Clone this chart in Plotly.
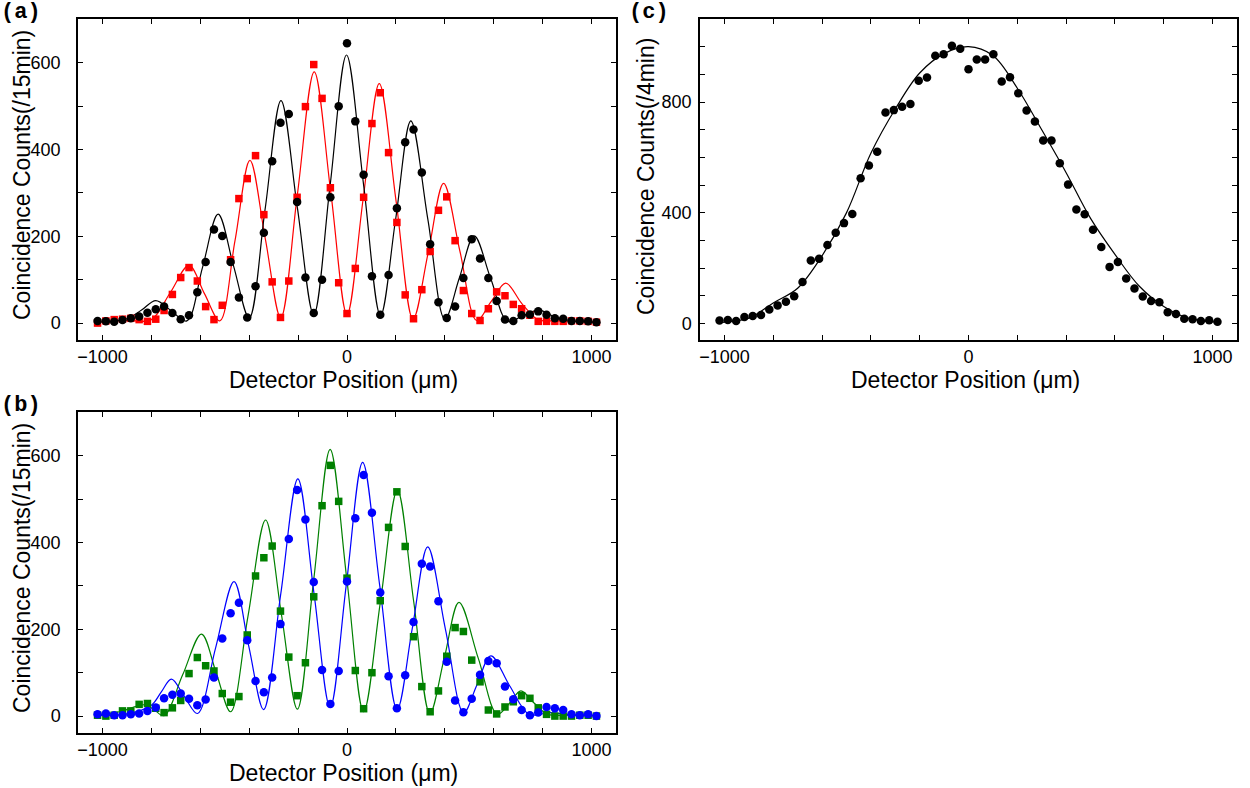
import plotly.graph_objects as go

# Detector scan positions (micrometres), shared by every data series
POS = [-1020, -986, -952, -918, -884, -850, -816, -782, -748, -714, -680, -646, -612, -578,
       -544, -510, -476, -442, -408, -374, -340, -306, -272, -238, -204, -170, -136, -102,
       -68, -34, 0, 34, 68, 102, 136, 170, 204, 238, 272, 306, 340, 374, 408, 442, 476, 510,
       544, 578, 612, 646, 680, 714, 748, 782, 816, 850, 884, 918, 952, 986, 1020]

# (a) coincidence counts per 15 min
A_BLACK = [5, 4, 3, 7, 11, 15, 24, 32, 38, 23, 9, 18, 71, 141, 216, 201, 141, 59, 13, 85,
           208, 373, 462, 482, 279, 105, 23, 100, 290, 500, 645, 465, 342, 108, 19, 111, 265,
           417, 446, 347, 182, 48, 12, 38, 104, 193, 149, 104, 51, 8, 5, 18, 20, 27, 19, 11,
           10, 5, 5, 4, 2]
A_RED = [0, 5, 8, 9, 11, 8, 4, 9, 29, 66, 105, 128, 97, 38, 8, 41, 146, 287, 333, 386,
         250, 95, 13, 97, 290, 499, 596, 518, 312, 93, 22, 126, 290, 460, 531, 393, 232, 65,
         10, 77, 165, 260, 291, 190, 75, 22, 6, 33, 72, 63, 43, 33, 18, 4, 4, 4, 4, 5, 5, 4, 2]

# (a) fitted curves: knots at peaks, valleys and half-heights
A_BLACK_FIT_X = [-1030, -900, -840, -782, -718, -655, -591, -527, -464, -400, -335, -270,
                 -203, -136, -69, -2, 68, 137, 199, 261, 331, 400, 460, 520, 588, 657, 722,
                 786, 850, 920, 1025]
A_BLACK_FIT_Y = [2, 10, 30, 52, 28, 5, 128, 251, 132, 12, 262, 513, 266, 19, 318, 618, 318,
                 17, 240, 466, 238, 9, 105, 201, 102, 4, 18, 30, 14, 5, 2]
A_RED_FIT_X = [-1030, -900, -800, -723, -646, -583, -520, -458, -397, -334, -271, -203,
               -134, -66, 0, 66, 132, 201, 270, 333, 395, 462, 530, 590, 649, 715, 780, 850,
               950, 1025]
A_RED_FIT_Y = [2, 6, 8, 70, 133, 68, 5, 190, 375, 194, 12, 296, 579, 300, 20, 286, 552,
               280, 9, 165, 322, 165, 6, 50, 92, 45, 8, 5, 4, 2]

# (b) coincidence counts per 15 min
B_BLUE = [4, 6, 2, 2, 4, 6, 12, 20, 41, 49, 52, 40, 25, 38, 89, 179, 237, 261, 175, 81,
          55, 89, 212, 408, 521, 453, 309, 106, 28, 104, 310, 456, 556, 469, 285, 92, 18, 94,
          217, 351, 345, 265, 125, 36, 9, 40, 95, 127, 122, 68, 39, 14, 2, 8, 21, 18, 14, 4,
          2, 4, 0]
B_GREEN = [2, 0, 2, 12, 12, 27, 29, 18, 8, 19, 36, 98, 135, 116, 104, 52, 32, 45, 187, 323,
           365, 392, 242, 136, 47, 123, 275, 485, 578, 495, 318, 105, 17, 100, 266, 435, 517,
           391, 183, 68, 10, 58, 138, 204, 195, 129, 79, 14, 5, 21, 33, 47, 41, 19, 4, 0, 0,
           0, 2, 2, 0]

B_BLUE_FIT_X = [-1030, -900, -800, -760, -718, -665, -611, -537, -462, -402, -341, -271,
                -201, -135, -69, -3, 64, 134, 205, 267, 330, 403, 477, 532, 588, 665, 745,
                830, 920, 1025]
B_BLUE_FIT_Y = [2, 5, 25, 55, 85, 45, 6, 158, 310, 162, 15, 281, 547, 283, 20, 302, 585,
                300, 15, 202, 390, 199, 8, 73, 139, 70, 4, 8, 3, 1]
B_GREEN_FIT_X = [-1030, -930, -830, -790, -748, -672, -595, -535, -476, -405, -333, -268,
                 -203, -136, -69, 0, 68, 137, 206, 273, 339, 398, 458, 537, 615, 665, 711,
                 765, 821, 900, 1025]
B_GREEN_FIT_Y = [2, 10, 26, 15, 1, 95, 189, 100, 10, 230, 452, 234, 16, 315, 615, 312, 10,
                 265, 521, 263, 6, 134, 262, 133, 4, 30, 58, 30, 4, 2, 1]

# (c) coincidence counts per 4 min
C_BLACK = [11, 13, 10, 24, 28, 31, 51, 66, 79, 99, 150, 228, 234, 284, 328, 363, 396, 525,
           571, 621, 762, 771, 783, 793, 877, 889, 967, 973, 1003, 993, 919, 954, 954, 973,
           874, 890, 832, 770, 730, 661, 661, 579, 502, 412, 395, 339, 277, 205, 223, 163,
           127, 98, 82, 77, 41, 35, 18, 16, 10, 12, 7]
C_FIT_X = [-1025, -900, -800, -700, -600, -500, -400, -300, -200, -100, 0, 100, 200, 300,
           400, 500, 600, 700, 800, 900, 1025]
C_FIT_Y = [4, 20, 75, 128, 245, 400, 615, 775, 905, 975, 1000, 968, 850, 700, 545, 380,
           250, 135, 62, 20, 5]

# Axis ticks
X_TICKS = [-1000, -800, -600, -400, -200, 0, 200, 400, 600, 800, 1000]
X_TEXT = ["\u22121000", "", "", "", "", "0", "", "", "", "", "1000"]
AB_Y_TICKS = [0, 100, 200, 300, 400, 500, 600]
AB_Y_TEXT = ["0", "", "200", "", "400", "", "600"]
C_Y_TICKS = [0, 100, 200, 300, 400, 500, 600, 700, 800, 900, 1000]
C_Y_TEXT = ["0", "", "", "", "400", "", "", "", "800", "", ""]

FONT = "Liberation Sans, Arial, Helvetica, sans-serif"
W, H = 1250, 788

fig = go.Figure()


def curve(x, y, color, xa, ya):
    fig.add_trace(go.Scatter(x=x, y=y, mode="lines", xaxis=xa, yaxis=ya,
                             line=dict(color=color, width=1.2, shape="spline", smoothing=1.0),
                             hoverinfo="skip", showlegend=False))


def points(x, y, color, symbol, size, xa, ya):
    fig.add_trace(go.Scatter(x=x, y=y, mode="markers", xaxis=xa, yaxis=ya,
                             marker=dict(color=color, symbol=symbol, size=size,
                                         line=dict(width=0)),
                             showlegend=False))


# panel (a)
curve(A_RED_FIT_X, A_RED_FIT_Y, "#ff0000", "x", "y")
curve(A_BLACK_FIT_X, A_BLACK_FIT_Y, "#000000", "x", "y")
points(POS, A_RED, "#ff0000", "square", 7.5, "x", "y")
points(POS, A_BLACK, "#000000", "circle", 8.5, "x", "y")

# panel (b)
curve(B_GREEN_FIT_X, B_GREEN_FIT_Y, "#008000", "x2", "y2")
curve(B_BLUE_FIT_X, B_BLUE_FIT_Y, "#0000ff", "x2", "y2")
points(POS, B_GREEN, "#008000", "square", 7.5, "x2", "y2")
points(POS, B_BLUE, "#0000ff", "circle", 8.5, "x2", "y2")

# panel (c)
curve(C_FIT_X, C_FIT_Y, "#000000", "x3", "y3")
points(POS, C_BLACK, "#000000", "circle", 8.5, "x3", "y3")


def px_x(p):
    return p / W


def px_y(p):
    return 1 - p / H


def xaxis(domain, anchor):
    return dict(domain=domain, anchor=anchor, range=[-1100, 1100], tickmode="array",
                tickvals=X_TICKS, ticktext=X_TEXT, ticks="inside", ticklen=5, tickwidth=1,
                tickcolor="#000", showline=True, linecolor="#000", linewidth=1.5,
                mirror="ticks", showgrid=False, zeroline=False, automargin=False,
                tickfont=dict(family=FONT, size=18, color="#000"))


def yaxis(domain, anchor, rng, vals, text, standoff):
    return dict(domain=domain, anchor=anchor, range=rng, tickmode="array",
                tickvals=vals, ticktext=text, ticks="inside", ticklen=5, tickwidth=1,
                tickcolor="#000", showline=True, linecolor="#000", linewidth=1.5,
                mirror="ticks", showgrid=False, zeroline=False, automargin=False,
                ticklabelstandoff=standoff,
                tickfont=dict(family=FONT, size=18, color="#000"))


AB_X = [px_x(78), px_x(616)]
C_X = [px_x(700), px_x(1237)]
A_Y = [px_y(340), px_y(19)]
B_Y = [px_y(733), px_y(412)]

fig.update_layout(
    width=W, height=H, margin=dict(l=0, r=0, t=0, b=0),
    paper_bgcolor="white", plot_bgcolor="white",
    xaxis=xaxis(AB_X, "y"),
    yaxis=yaxis(A_Y, "x", [-39, 701], AB_Y_TICKS, AB_Y_TEXT, 12),
    xaxis2=xaxis(AB_X, "y2"),
    yaxis2=yaxis(B_Y, "x2", [-39, 701], AB_Y_TICKS, AB_Y_TEXT, 12),
    xaxis3=xaxis(C_X, "y3"),
    yaxis3=yaxis(A_Y, "x3", [-59, 1100], C_Y_TICKS, C_Y_TEXT, 3),
)

XT_FONT = dict(family=FONT, size=23, color="#000")
YT_FONT = dict(family=FONT, size=23, color="#000")
PANEL_FONT = dict(family="Liberation Mono, Courier New, monospace", size=22, color="#000")


def label(text, x, y, font, angle=0):
    fig.add_annotation(text=text, x=px_x(x), y=px_y(y), xref="paper", yref="paper",
                       showarrow=False, font=font, textangle=angle,
                       xanchor="center", yanchor="middle")


label("Detector Position (\u03bcm)", 343, 380, XT_FONT)
label("Detector Position (\u03bcm)", 343, 773, XT_FONT)
label("Detector Position (\u03bcm)", 965, 380, XT_FONT)
label("Coincidence Counts(/15min)", 22, 175, YT_FONT, -90)
label("Coincidence Counts(/15min)", 22, 568, YT_FONT, -90)
label("Coincidence Counts(/4min)", 646, 177, YT_FONT, -90)
label("<b>(a)</b>", 21, 12, PANEL_FONT)
label("<b>(b)</b>", 21, 405, PANEL_FONT)
label("<b>(c)</b>", 649, 12, PANEL_FONT)

fig.write_html("out.html")
